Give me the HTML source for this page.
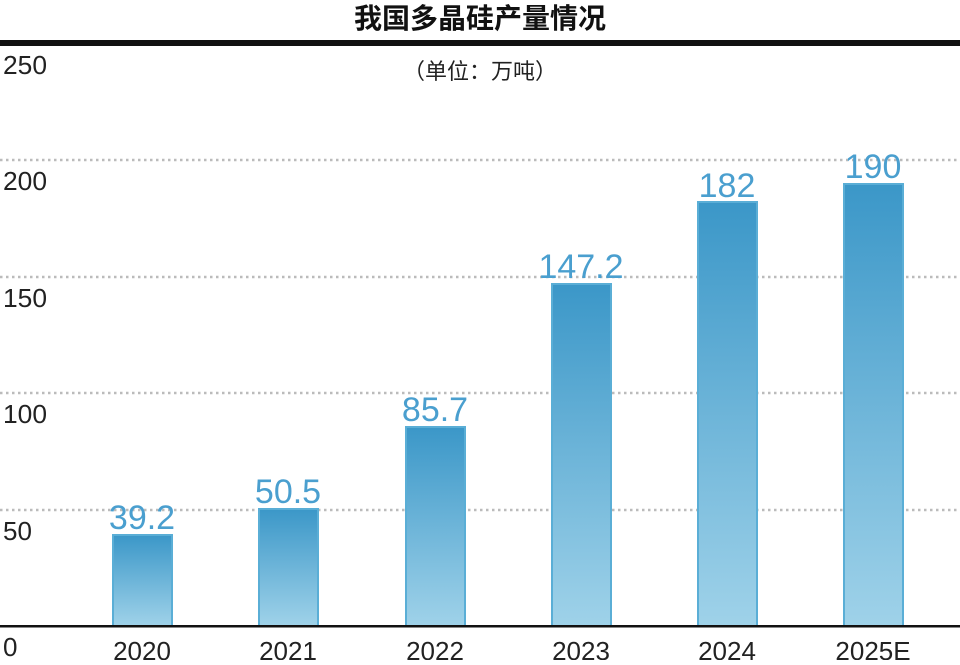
<!DOCTYPE html><html><head><meta charset="utf-8"><style>
body{margin:0;background:#fff;width:960px;height:660px;overflow:hidden}
svg text{font-family:"Liberation Sans","Noto Sans CJK SC",sans-serif}
</style></head><body>
<svg width="960" height="660" viewBox="0 0 960 660">
<defs><linearGradient id="g" x1="0" y1="0" x2="0" y2="1"><stop offset="0" stop-color="#3b97c8"/><stop offset="1" stop-color="#9fd2e9"/></linearGradient></defs>
<text x="480" y="28" text-anchor="middle" font-size="28" font-weight="bold" fill="#111">我国多晶硅产量情况</text>
<rect x="0" y="40" width="960" height="6" fill="#111"/>
<text x="480" y="79" text-anchor="middle" font-size="22" fill="#222">（单位：万吨）</text>
<g stroke="#bbb" stroke-width="2.5" stroke-dasharray="2.5,3.5">
<line x1="0" y1="160" x2="960" y2="160"/><line x1="0" y1="277" x2="960" y2="277"/><line x1="0" y1="393" x2="960" y2="393"/><line x1="0" y1="510" x2="960" y2="510"/></g>
<g font-size="26" fill="#222">
<text x="3" y="74" textLength="44" lengthAdjust="spacingAndGlyphs">250</text><text x="3" y="190" textLength="44" lengthAdjust="spacingAndGlyphs">200</text><text x="3" y="307" textLength="44" lengthAdjust="spacingAndGlyphs">150</text><text x="3" y="423" textLength="44" lengthAdjust="spacingAndGlyphs">100</text><text x="3" y="540">50</text><text x="3" y="656">0</text></g>
<g fill="url(#g)" stroke="#5aaed6" stroke-width="2">
<rect x="113" y="535" width="59" height="91"/>
<rect x="259" y="509" width="59" height="117"/>
<rect x="406" y="427" width="59" height="199"/>
<rect x="552" y="284" width="59" height="342"/>
<rect x="698" y="202" width="59" height="424"/>
<rect x="844" y="184" width="59" height="442"/></g>
<rect x="0" y="625" width="960" height="2.5" fill="#111"/>
<g font-size="34" fill="#4a9fcf" text-anchor="middle">
<text x="142" y="529">39.2</text><text x="288" y="503">50.5</text><text x="435" y="421">85.7</text><text x="581" y="278">147.2</text><text x="727" y="197">182</text><text x="873" y="178">190</text></g>
<g font-size="26" fill="#222" text-anchor="middle">
<text x="142" y="660">2020</text><text x="288" y="660">2021</text><text x="435" y="660">2022</text><text x="581" y="660">2023</text><text x="727" y="660">2024</text><text x="873" y="660">2025E</text></g>
</svg></body></html>
